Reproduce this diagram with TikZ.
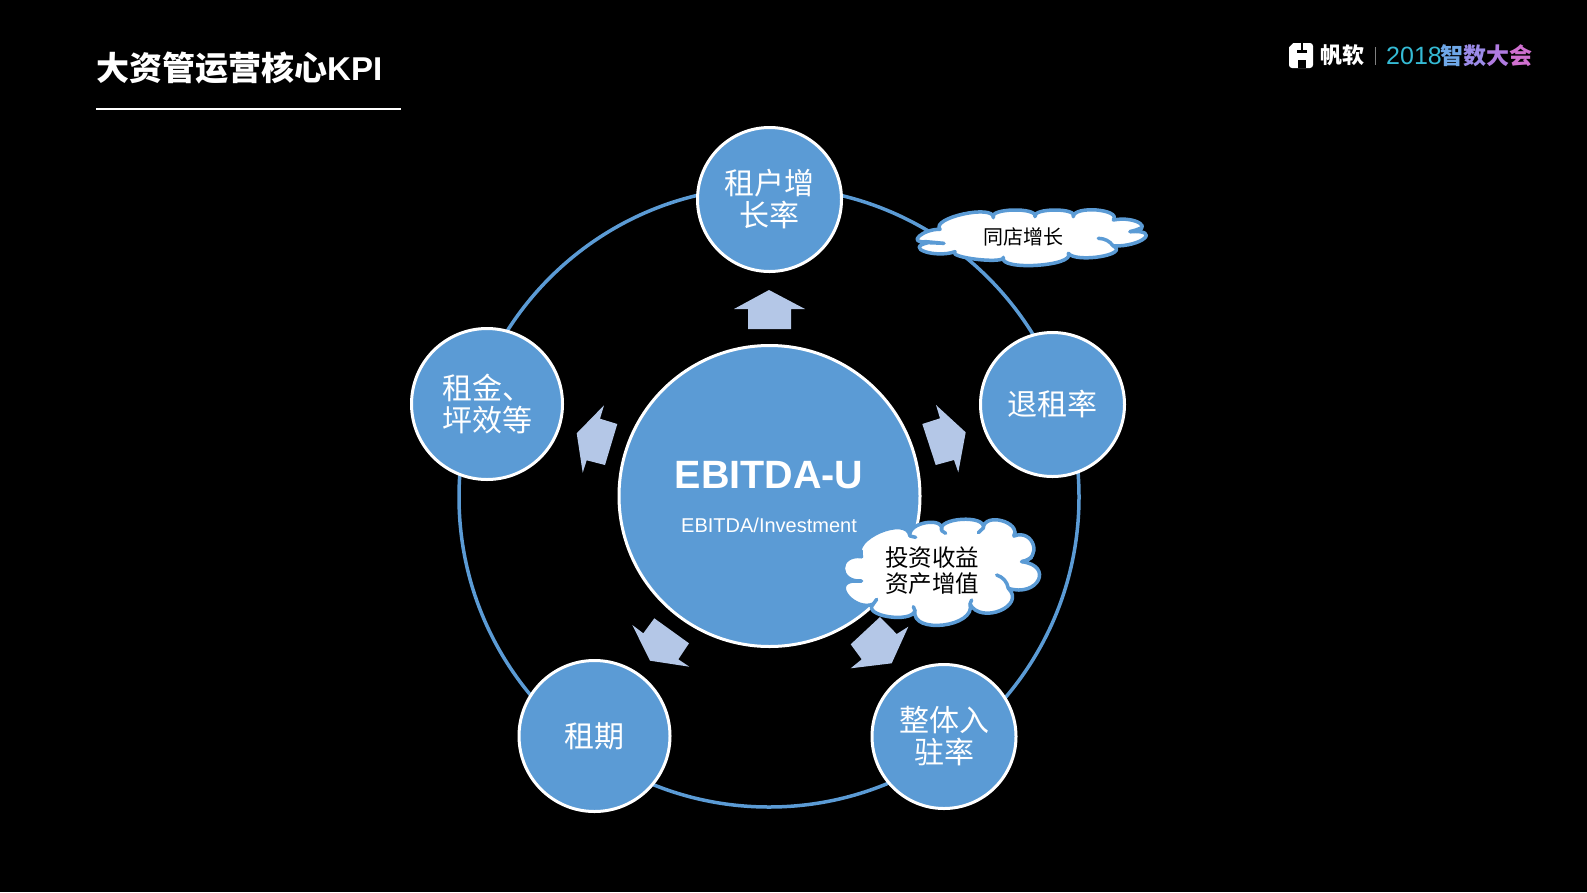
\documentclass[tikz,border=0pt]{standalone}
\usepackage{fontspec}
\setmainfont{Noto Sans CJK SC}
\newfontfamily\latinf{Liberation Sans}
\definecolor{kblue}{HTML}{5B9BD5}
\definecolor{karrow}{HTML}{B4C7E7}
\newcommand{\lobe}[6]{.. controls ({#1+(#3-(#1+#5)/2)/.75-.1*(#5-#1)},{#2+(#4-(#2+#6)/2)/.75-.1*(#6-#2)}) and ({#5+(#3-(#1+#5)/2)/.75+.1*(#5-#1)},{#6+(#4-(#2+#6)/2)/.75+.1*(#6-#2)}) .. (#5,#6)}
\newcommand{\up}[2][1pt]{\raisebox{#1}{#2}}
\tikzset{
  kpi/.style={circle,draw=white,line width=3pt,fill=kblue,text=white,minimum size=#1,inner sep=0pt,align=center,font=\fontsize{30}{32}\selectfont},
  karrowshape/.style={fill=karrow,draw=none},
  cloudfill/.style={fill=white,draw=kblue,line width=3.5pt,line join=round},
  cloudline/.style={draw=kblue,line width=3.5pt,line cap=round},
}
\begin{document}
\begin{tikzpicture}[x=1pt,y=-1pt]
\useasboundingbox (0,0) rectangle (1587,892);
\fill[black] (0,0) rectangle (1587,892);
% title
\node[anchor=west,inner sep=0pt,text=white,font=\fontsize{33}{36}\bfseries\selectfont] (title) at (96,68.5) {大资管运营核心{\latinf KPI}};
\coordinate (ula) at (96,108.5);
\coordinate (ulb) at (400.5,108.5);
\draw[white,line width=2pt] (ula) -- (ulb);
% logo
\fill[white,rounded corners=3pt] (1289,43) rectangle (1313,68);
\fill[black] (1301,43) rectangle (1303,50);
\fill[black] (1297,50) rectangle (1307,53);
\fill[black] (1298,60) rectangle (1306,68);
\fill[black] (1289,43) -- (1293,43) -- (1289,47) -- cycle;
\node[anchor=west,inner sep=0pt,text=white,font=\fontsize{22}{24}\bfseries\selectfont] (brand) at (1320,55) {帆软};
\fill[gray] (1374.5,47) rectangle (1375.5,65);
\definecolor{lg1}{HTML}{35BBD5}\definecolor{lg2}{HTML}{6FA8E8}\definecolor{lg3}{HTML}{9C8BE8}\definecolor{lg4}{HTML}{B07BE0}\definecolor{lg5}{HTML}{D070D0}
\node[anchor=west,inner sep=0pt,text=lg1,font=\latinf\fontsize{25}{28}\selectfont] (year) at (1386,56) {2018};
\node[anchor=west,inner sep=0pt,font=\fontsize{23}{26}\bfseries\selectfont] (event) at (1440,56) {\textcolor{lg2}{智}\textcolor{lg3}{数}\textcolor{lg4}{大}\textcolor{lg5}{会}};
% ring
\node[circle,draw=kblue,line width=3.5pt,minimum size=620pt,inner sep=0pt] (ring) at (769,497) {};
% arrows
\fill[karrowshape] (769,290)--(734,309)--(748,309)--(748,329)--(791,329)--(791,309)--(805,309)--cycle;
\fill[karrowshape] (604,405.3)--(600,418.7)--(617.3,424)--(605,465)--(586.7,460.3)--(582.7,472.7)--(576.7,433.3)--cycle;
\fill[karrowshape] (936,405)--(940,418.3)--(922.3,424)--(935.7,465)--(954,460)--(958.3,472.3)--(965.7,432.3)--cycle;
\fill[karrowshape] (632.3,625)--(643.3,633.3)--(654.3,618.3)--(689,643.3)--(678.3,659.3)--(689.3,666.7)--(650,660.7)--cycle;
\fill[karrowshape] (908.3,626.7)--(896.7,634)--(880,617)--(850.7,644.3)--(861.7,659.3)--(850.7,668.3)--(891.7,663.3)--cycle;
% circles
\node[kpi=301pt] (core) at (769.5,496) {};
\node[inner sep=0pt,text=white,font=\latinf\bfseries\fontsize{39.5}{44}\selectfont] (ebitda) at (769,475.5) {EBITDA-U};
\node[inner sep=0pt,text=white,font=\latinf\fontsize{20}{24}\selectfont] (ratio) at (769,525) {EBITDA/Investment};
\node[kpi=144pt] (top) at (769.5,199.5) {\up{租户增}\\\up{长率}};
\node[kpi=144pt] (right) at (1052.5,404.5) {\up[2.5pt]{退租率}};
\node[kpi=144pt] (br) at (944,736.5) {\up{整体入}\\\up{驻率}};
\node[kpi=151pt] (bl) at (594.5,736) {\up[2pt]{租期}};
\node[kpi=151pt] (left) at (487,404) {\up{租金、}\\\up{坪效等}};
% big cloud
\begin{scope}[shift={(820,500)},x=0.3333pt,y=-0.3333pt]
\path[cloudfill] (125,170) \lobe{125}{170}{180}{95}{270}{108} \lobe{270}{108}{318}{68}{365}{92} \lobe{365}{92}{425}{58}{490}{84} \lobe{490}{84}{545}{62}{582}{108} \lobe{582}{108}{640}{135}{605}{185} \lobe{605}{185}{655}{240}{565}{265} \lobe{565}{265}{540}{332}{450}{312} \lobe{450}{312}{370}{375}{285}{332} \lobe{285}{332}{205}{350}{160}{312} \lobe{160}{312}{85}{290}{98}{243} -- (125,243) \lobe{125}{243}{70}{205}{125}{170} -- cycle;
\draw[cloudline] (160,312) to[bend left=15] (170,298);
\draw[cloudline] (285,332) to[bend left=10] (280,320);
\draw[cloudline] (450,312) to[bend right=10] (455,300);
\draw[cloudline] (565,265) to[bend right=30] (530,225);
\draw[cloudline] (605,185) to[bend right=10] (635,172);
\draw[cloudline] (582,108) to[bend left=10] (585,95);
\draw[cloudline] (490,84) to[bend right=10] (475,98);
\draw[cloudline] (365,92) to[bend right=10] (377,100);
\draw[cloudline] (270,108) to[bend left=10] (287,112);
\draw[cloudline] (125,170) to[bend right=10] (125,152);
\end{scope}
\node[inner sep=0pt,align=center,text=black,font=\fontsize{23.5}{26}\selectfont] (cloudbig) at (932,570.5) {投资收益\\资产增值};
% small cloud
\begin{scope}[shift={(900,190)},x=0.3333pt,y=-0.3333pt]
\path[cloudfill] (120,118) \lobe{120}{118}{190}{72}{280}{83} \lobe{280}{83}{340}{60}{405}{80} \lobe{405}{80}{465}{60}{520}{80} \lobe{520}{80}{590}{60}{640}{90} \lobe{640}{90}{720}{100}{690}{125} \lobe{690}{125}{733}{145}{640}{168} \lobe{640}{168}{600}{200}{505}{190} \lobe{505}{190}{410}{226}{310}{202} \lobe{310}{202}{230}{208}{165}{185} \lobe{165}{185}{75}{185}{85}{158} -- (132,160) -- (78,155) \lobe{78}{155}{58}{138}{120}{118} -- cycle;
\draw[cloudline] (640,168) to[bend right=25] (595,145);
\draw[cloudline] (690,125) to[bend right=5] (725,113);
\end{scope}
\node[inner sep=0pt,text=black,font=\fontsize{20}{22}\selectfont] (cloudsmall) at (1023.5,237) {同店增长};
\end{tikzpicture}
\end{document}
